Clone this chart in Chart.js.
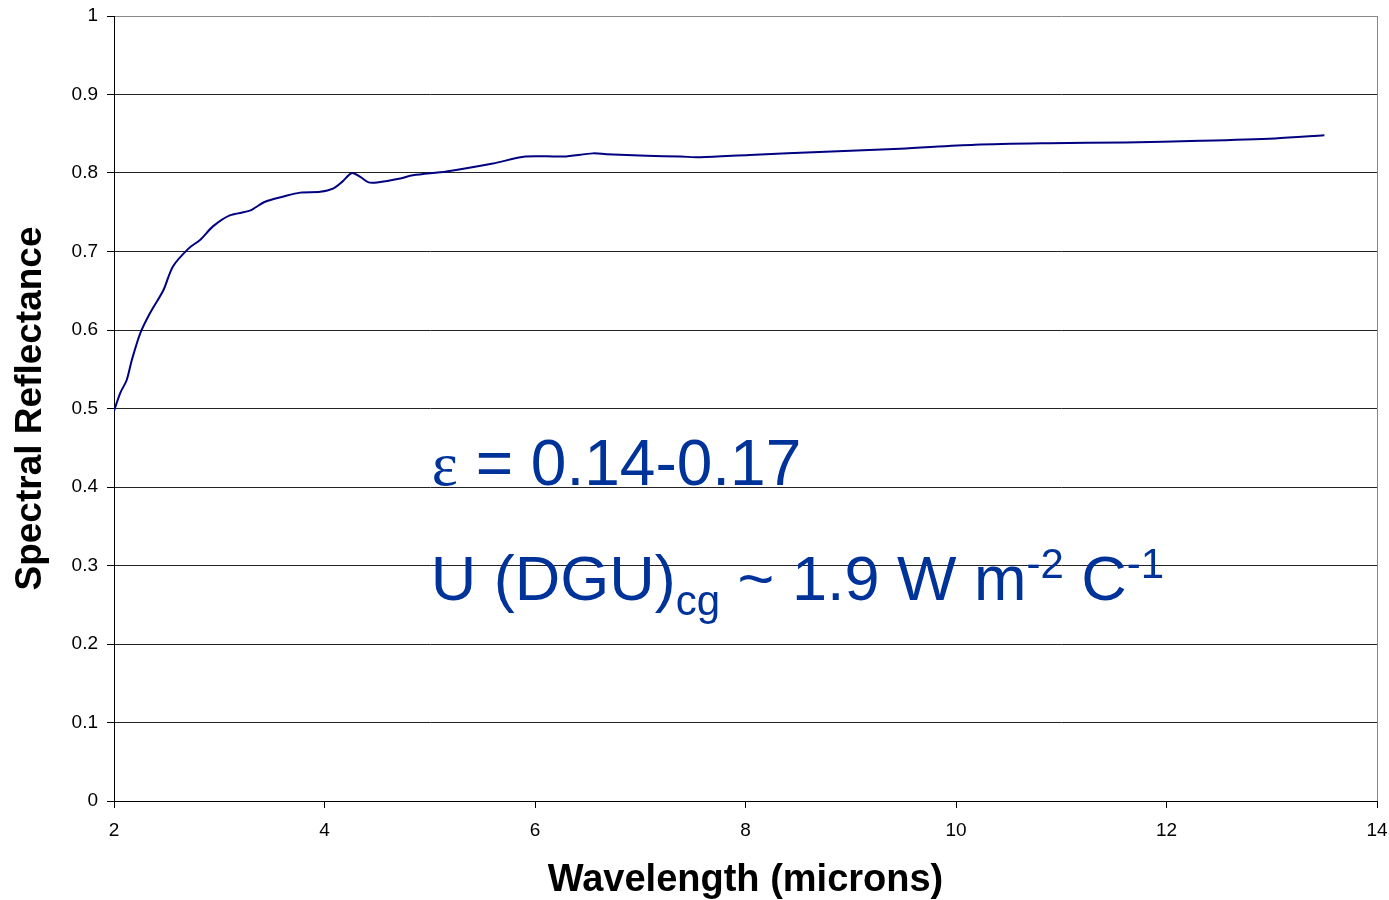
<!DOCTYPE html>
<html>
<head>
<meta charset="utf-8">
<script src="https://cdn.jsdelivr.net/npm/chart.js@4/dist/chart.umd.min.js"></script>
<style>
  body { margin: 0; background: #fff; }
  canvas { display: block; }
</style>
</head>
<body>
<canvas id="reflChart" width="1389" height="900"></canvas>
<script>
// wavelength (microns) and reflectance
const wavelength = [2.0, 2.06, 2.12, 2.17, 2.25, 2.34, 2.47, 2.56, 2.71, 2.82, 2.94, 3.10, 3.29, 3.43,
    3.61, 3.77, 3.96, 4.08, 4.17, 4.26, 4.34, 4.42, 4.50, 4.72, 4.84, 5.16, 5.60, 5.91, 6.27,
    6.55, 6.68, 7.06, 7.38, 7.57, 8.04, 8.76, 9.47, 10.18, 10.89, 11.61, 12.32, 13.03, 13.5];
const reflectance = [0.497, 0.520, 0.536, 0.562, 0.596, 0.621, 0.651, 0.681, 0.704, 0.715, 0.732, 0.746, 0.752, 0.763,
    0.770, 0.775, 0.776, 0.780, 0.789, 0.800, 0.795, 0.788, 0.788, 0.793, 0.797, 0.802, 0.812, 0.821, 0.821,
    0.825, 0.824, 0.822, 0.821, 0.820, 0.823, 0.827, 0.831, 0.836, 0.838, 0.839, 0.841, 0.844, 0.848];

const xTicks = [2, 4, 6, 8, 10, 12, 14];
const yTicks = [0, 0.1, 0.2, 0.3, 0.4, 0.5, 0.6, 0.7, 0.8, 0.9, 1];

const xTitle = "Wavelength (microns)";
const yTitle = "Spectral Reflectance";
const textColor = "#003399";

// annotation text, drawn in sequence: [text, font, baseline shift]
const line1 = [["\u03b5", "62px 'Liberation Serif'", 0], [" = 0.14-0.17", "64px 'Liberation Sans'", 0]];
const line2 = [["U (DGU)", "63px 'Liberation Sans'", 0], ["cg", "42px 'Liberation Sans'", 15],
    [" ~ 1.9 W m", "63px 'Liberation Sans'", 0], ["-2", "42px 'Liberation Sans'", -22],
    [" C", "63px 'Liberation Sans'", 0], ["-1", "42px 'Liberation Sans'", -22]];

const annotationPlugin = {
    id: "annotations",
    afterDatasetsDraw(chart) {
        const ctx = chart.ctx;
        const xs = chart.scales.x, ys = chart.scales.y;
        function drawLine(parts, xv, yv) {
            let x = xs.getPixelForValue(xv);
            const y = ys.getPixelForValue(yv);
            parts.forEach(p => {
                ctx.font = p[1];
                ctx.fillText(p[0], x, y + p[2]);
                x += ctx.measureText(p[0]).width;
            });
        }
        ctx.save();
        ctx.fillStyle = textColor;
        ctx.textBaseline = "alphabetic";
        ctx.textAlign = "left";
        drawLine(line1, 5.02, 0.402);
        drawLine(line2, 5.01, 0.256);
        ctx.restore();
    }
};

new Chart("reflChart", {
    type: "line",
    data: {
        datasets: [{
            data: wavelength.map((w, i) => ({ x: w, y: reflectance[i] })),
            borderColor: "#000080",
            borderWidth: 2,
            pointRadius: 0,
            tension: 0.3,
            fill: false
        }]
    },
    options: {
        responsive: false,
        animation: false,
        layout: { padding: { left: 0, right: 12, top: 16, bottom: 0 } },
        plugins: { legend: { display: false }, tooltip: { enabled: false } },
        scales: {
            x: {
                type: "linear",
                min: 2, max: 14,
                afterBuildTicks: s => { s.ticks = xTicks.map(v => ({ value: v })); },
                afterFit: s => { s.height = 99; s.paddingLeft = 0; s.paddingRight = 0; },
                border: { color: "#000", width: 1 },
                grid: {
                    color: c => c.tick && c.tick.value === 14 ? "#888" : "rgba(0,0,0,0)",
                    tickColor: "#000",
                    tickLength: 7,
                    lineWidth: 1
                },
                ticks: { color: "#000", font: { family: "'Liberation Sans'", size: 19 }, padding: 11, maxRotation: 0 },
                title: {
                    display: true, text: xTitle, color: "#000",
                    font: { family: "'Liberation Sans'", size: 38, weight: "bold", lineHeight: 1.05 },
                    padding: { top: 0, bottom: 0 }
                }
            },
            y: {
                min: 0, max: 1,
                afterBuildTicks: s => { s.ticks = yTicks.map(v => ({ value: v })); },
                afterFit: s => { s.width = 114; s.paddingTop = 0; s.paddingBottom = 0; },
                border: { color: "#000", width: 1 },
                grid: {
                    color: c => c.tick && c.tick.value === 1 ? "#888" : "#222",
                    tickColor: "#000", tickLength: 7, lineWidth: 1
                },
                ticks: { color: "#000", font: { family: "'Liberation Sans'", size: 19 }, padding: 9,
                    callback: v => String(Math.round(v * 10) / 10) },
                title: {
                    display: true, text: yTitle, color: "#000",
                    font: { family: "'Liberation Sans'", size: 37, weight: "bold" },
                    padding: { top: 9, bottom: 0 }
                }
            }
        }
    },
    plugins: [annotationPlugin]
});
</script>
</body>
</html>
